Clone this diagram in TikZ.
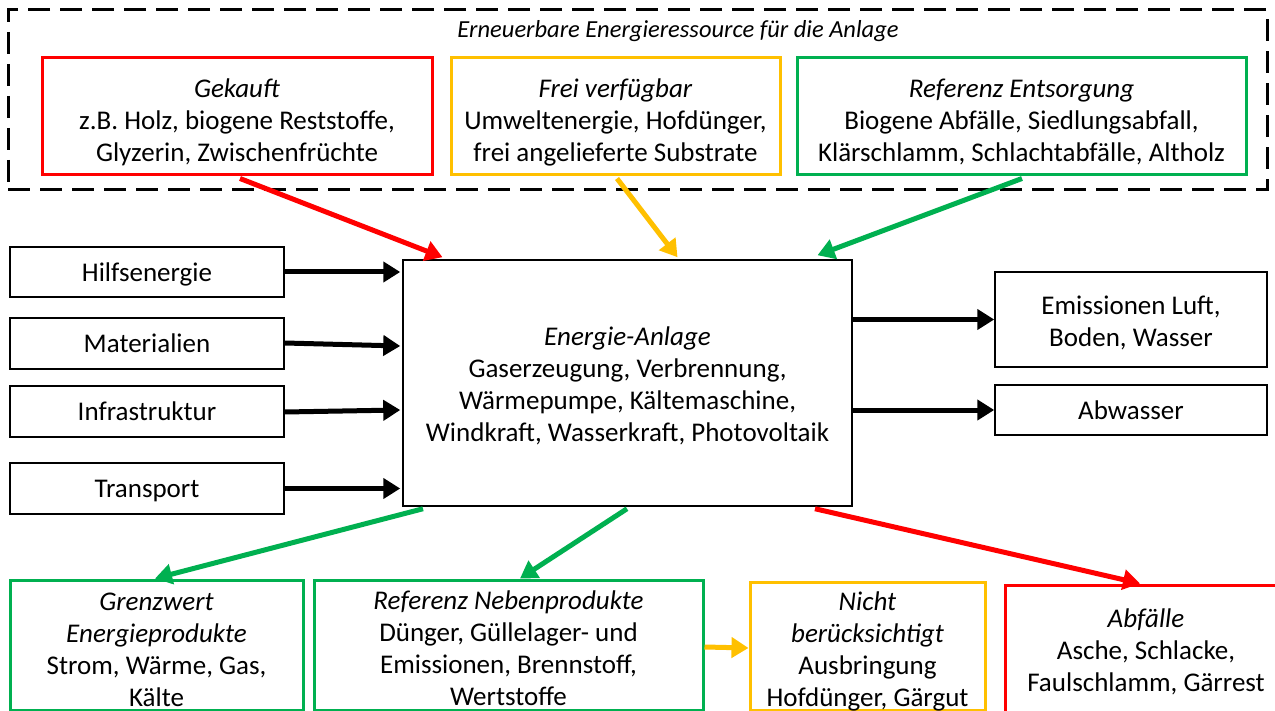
\documentclass[tikz,border=0pt]{standalone}
\usepackage{fontspec}
\setmainfont{Carlito}
\usetikzlibrary{arrows.meta}
\definecolor{cred}{HTML}{FF0000}
\definecolor{cyel}{HTML}{FFC000}
\definecolor{cgrn}{HTML}{00B050}
% centred stack of lines, lowered a little inside its frame
\newcommand\stackl[2][3pt]{\raisebox{-#1}[\height][\depth]{\begin{tabular}{@{}c@{}}#2\end{tabular}}}

\begin{document}
\begin{tikzpicture}[x=1pt,y=-1pt,
  txt/.style={font=\fontsize{27}{32}\selectfont, inner sep=0pt},
  box/.style={txt, draw=black, line width=1.5pt},
  cbox/.style={txt, draw=#1, line width=3pt},
  flow/.style={draw=#1, line width=5pt, -{Triangle[length=17pt,width=20pt]}},
]
\useasboundingbox (0,0) rectangle (1275,711);
\clip (0,0) rectangle (1275,711);

% resource group
\node[draw=black, line width=3pt, dash pattern=on 22pt off 10pt,
      minimum width=1259pt, minimum height=180pt] (res) at (637.5,100) {};
\node[font=\fontsize{24.5}{28}\selectfont\itshape, inner sep=0pt] (restitle) at (678,31)
  {Erneuerbare Energieressource für die Anlage};

\node[cbox=cred, minimum width=390pt, minimum height=117pt] (gek) at (237,116.5)
  {\stackl[7pt]{\textit{Gekauft}\\z.B. Holz, biogene Reststoffe,\\Glyzerin, Zwischenfrüchte}};
\node[cbox=cyel, minimum width=329pt, minimum height=117pt] (frei) at (615.5,116.5)
  {\stackl[7pt]{\textit{Frei verfügbar}\\Umweltenergie, Hofdünger,\\frei angelieferte Substrate}};
\node[cbox=cgrn, minimum width=449pt, minimum height=117pt] (ent) at (1021.5,116.5)
  {\stackl[7pt]{\textit{Referenz Entsorgung}\\Biogene Abfälle, Siedlungsabfall,\\Klärschlamm, Schlachtabfälle, Altholz}};

% plant
\node[box, minimum width=449pt, minimum height=246pt] (anl) at (627.5,383)
  {\stackl[4pt]{\textit{Energie-Anlage}\\Gaserzeugung, Verbrennung,\\Wärmepumpe, Kältemaschine,\\Windkraft, Wasserkraft, Photovoltaik}};

% inputs
\node[box, minimum width=274pt, minimum height=50pt] (hilf) at (147,272) {\stackl{Hilfsenergie}};
\node[box, minimum width=274pt, minimum height=51pt] (mat) at (147,343.5) {\stackl{Materialien}};
\node[box, minimum width=274pt, minimum height=51pt] (infra) at (147,411.5) {\stackl{Infrastruktur}};
\node[box, minimum width=274pt, minimum height=51pt] (trans) at (147,488.5) {\stackl{Transport}};

% emissions
\node[box, minimum width=272pt, minimum height=95pt] (emi) at (1131,319.5)
  {\stackl[4.5pt]{Emissionen Luft,\\Boden, Wasser}};
\node[box, minimum width=272pt, minimum height=50pt] (abw) at (1131,410) {\stackl{Abwasser}};

% outputs
\node[cbox=cgrn, minimum width=293pt, minimum height=130pt] (gren) at (156.5,645)
  {\stackl[7pt]{\textit{Grenzwert}\\\textit{Energieprodukte}\\Strom, Wärme, Gas,\\Kälte}};
\node[cbox=cgrn, minimum width=389pt, minimum height=130pt] (neb) at (508.5,645)
  {\stackl[6pt]{\textit{Referenz Nebenprodukte}\\Dünger, Güllelager- und\\Emissionen, Brennstoff,\\Wertstoffe}};
\node[cbox=cyel, minimum width=235pt, minimum height=128pt] (nicht) at (867.5,646)
  {\stackl[6pt]{\textit{Nicht}\\\textit{berücksichtigt}\\Ausbringung\\Hofdünger, Gärgut}};
\node[cbox=cred, minimum width=282pt, minimum height=132pt] (abf) at (1146,651)
  {\stackl[2.5pt]{\textit{Abfälle}\\Asche, Schlacke,\\Faulschlamm, Gärrest}};

% resource flows
\draw[flow=cred] ([xshift=3pt,yshift=-2pt]gek.south) -- ([xshift=-185pt,yshift=2pt]anl.north);
\draw[flow=cyel] ([xshift=1.5pt,yshift=-2pt]frei.south) -- ([xshift=50pt,yshift=2pt]anl.north);
\draw[flow=cgrn] ([xshift=0.5pt,yshift=-2pt]ent.south) -- ([xshift=190pt,yshift=4pt]anl.north);

% auxiliary inputs
\draw[flow=black] (hilf.east) -- ([xshift=-2pt]hilf.east -| anl.west);
\draw[flow=black] ([yshift=0.5pt]mat.east) -- ([xshift=-2pt,yshift=-2.5pt]mat.east -| anl.west);
\draw[flow=black] ([yshift=-0.5pt]infra.east) -- ([xshift=-2pt,yshift=1.5pt]infra.east -| anl.west);
\draw[flow=black] (trans.east) -- ([xshift=-2pt]trans.east -| anl.west);

% emissions
\draw[flow=black] (anl.east |- emi.west) -- (emi.west);
\draw[flow=black] (anl.east |- abw.west) -- (abw.west);

% product flows
\draw[flow=cgrn] ([xshift=-204.5pt,yshift=-2pt]anl.south) -- ([xshift=-1.5pt]gren.north);
\draw[flow=cgrn] ([xshift=-0.5pt,yshift=-2pt]anl.south) -- ([xshift=11.5pt]neb.north);
\draw[flow=cred] ([xshift=187.5pt,yshift=-2pt]anl.south) -- ([xshift=-6pt]abf.north);
\draw[flow=cyel] ([yshift=-2pt]neb.east) -- ([yshift=-2pt]nicht.west);
\end{tikzpicture}
\end{document}
